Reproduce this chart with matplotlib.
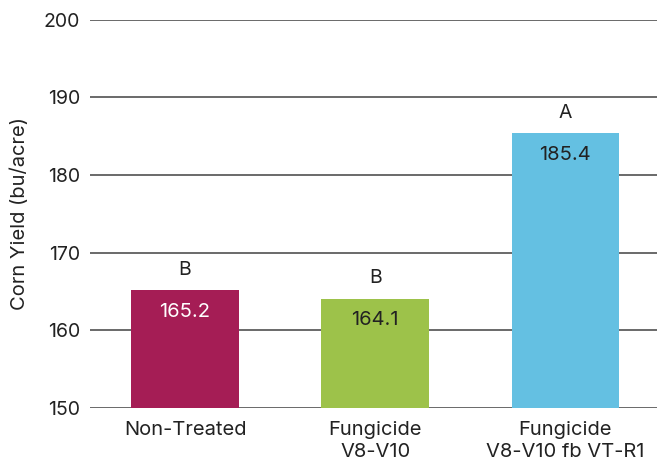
import matplotlib
matplotlib.use("Agg")
import matplotlib.pyplot as plt

categories = ["Non-Treated", "Fungicide\nV8-V10", "Fungicide\nV8-V10 fb VT-R1"]
yields = [165.2, 164.1, 185.4]
letters = ["B", "B", "A"]
colors = ["#A51D55", "#9DC24A", "#64C0E2"]
value_colors = ["white", "#222222", "#222222"]
yticks = [150, 160, 170, 180, 190, 200]

plt.rcParams['font.family'] = ['Inter', 'DejaVu Sans']

fig = plt.figure(figsize=(6.57, 4.67), dpi=100)
ax = fig.add_axes([0.137, 0.126, 0.868, 0.832])

x = range(len(categories))
ax.bar(x, [v - 150 for v in yields], bottom=150, width=0.565, color=colors, zorder=3)
for xi, v, l, c in zip(x, yields, letters, value_colors):
    ax.text(xi, v + 2.6, l, ha='center', va='center', fontsize=14, color='#222222')
    ax.text(xi, v - 2.8, f"{v:.1f}", ha='center', va='center', fontsize=14.5, color=c, zorder=4)

ax.set_ylim(150, 200)
ax.set_xlim(-0.5, 2.5)
ax.set_yticks(yticks)
ax.set_yticklabels([str(t) for t in yticks], fontsize=14, color='#222222')
ax.set_xticks(list(x))
ax.set_xticklabels(categories, fontsize=14.5, color='#222222', linespacing=1.3)
ax.tick_params(axis='both', length=0, pad=7)
ax.tick_params(axis='x', pad=9)
ax.yaxis.grid(True, color='#5e5e5e', linewidth=1.3, zorder=0)
ax.set_axisbelow(True)
for s in ax.spines.values():
    s.set_visible(False)
ax.set_ylabel("Corn Yield (bu/acre)", fontsize=14.5, color='#222222', labelpad=11)

fig.savefig("out.png", dpi=100)
